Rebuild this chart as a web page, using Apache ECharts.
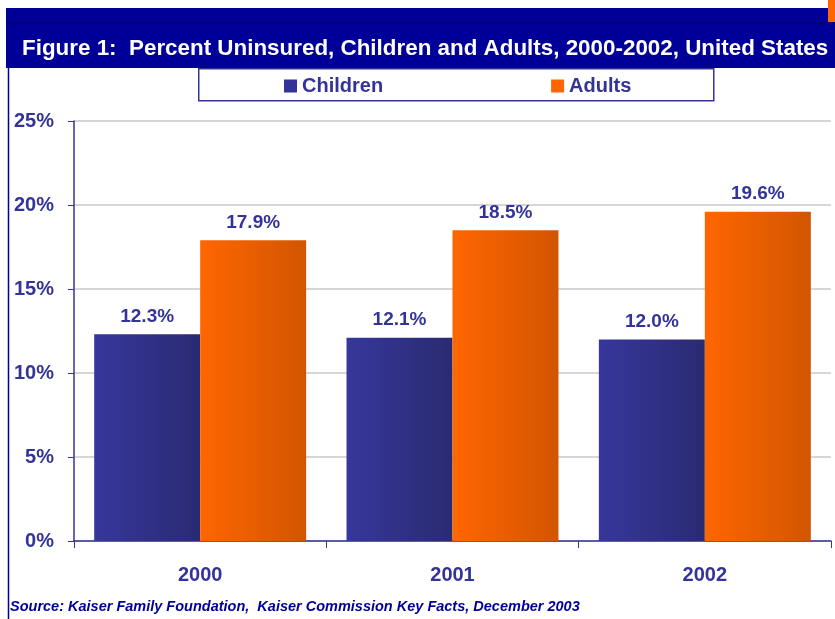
<!DOCTYPE html>
<html>
<head>
<meta charset="utf-8">
<script src="https://cdn.jsdelivr.net/npm/echarts@6/dist/echarts.min.js"></script>
<style>
  html, body { margin: 0; padding: 0; background: #fff; }
  #main { width: 835px; height: 619px; }
</style>
</head>
<body>
<div id="main"></div>
<script>
  // 数据
  var years = ['2000', '2001', '2002'];
  var children = [12.3, 12.1, 12.0];
  var adults = [17.9, 18.5, 19.6];
  var yTicks = [0, 5, 10, 15, 20, 25];

  var navy = '#333399';
  var font = '"Liberation Sans", Arial, sans-serif';

  var chart = echarts.init(document.getElementById('main'));

  function grad(a, b) {
    return new echarts.graphic.LinearGradient(0, 0, 1, 0, [
      { offset: 0, color: a },
      { offset: 1, color: b }
    ]);
  }

  var labelStyle = {
    show: true,
    position: 'top',
    distance: 8,
    color: navy,
    fontFamily: font,
    fontWeight: 'bold',
    fontSize: 19,
    formatter: function (p) { return p.value.toFixed(1) + '%'; }
  };

  chart.setOption({
    animation: false,
    textStyle: { fontFamily: font },
    graphic: [
      // 标题栏
      { type: 'rect', left: 6, top: 8, shape: { width: 829, height: 60 }, style: { fill: '#000099' } },
      { type: 'line', shape: { x1: 6, y1: 23, x2: 835, y2: 23 }, style: { stroke: '#00005a', lineWidth: 1 } },
      { type: 'rect', left: 828, top: 0, shape: { width: 7, height: 22 }, style: { fill: '#ff6600' } },
      { type: 'text', left: 22, top: 38, style: { text: 'Figure 1:  Percent Uninsured, Children and Adults, 2000-2002, United States', fill: '#fff', font: 'bold 22.4px ' + font } },
      // 左边框
      { type: 'line', shape: { x1: 8.5, y1: 68, x2: 8.5, y2: 619 }, style: { stroke: '#000099', lineWidth: 1.5 } },
      // 图例框
      { type: 'rect', left: 198, top: 68, shape: { width: 515, height: 32 }, style: { fill: '#fff', stroke: navy, lineWidth: 1.5 }, z: 0 },
      // 来源
      { type: 'text', left: 10, top: 599, style: { text: 'Source: Kaiser Family Foundation,  Kaiser Commission Key Facts, December 2003', fill: '#000099', font: 'italic bold 14.5px ' + font } }
    ],
    legend: {
      left: 279,
      top: 71,
      itemWidth: 13,
      itemHeight: 13,
      itemGap: 168,
      icon: 'rect',
      z: 10,
      textStyle: { color: navy, fontWeight: 'bold', fontSize: 20, fontFamily: font },
      data: [
        { name: 'Children', itemStyle: { color: '#333399' } },
        { name: 'Adults', itemStyle: { color: '#ff6600' } }
      ]
    },
    grid: { left: 74, right: 4, top: 121, bottom: 78 },
    xAxis: {
      type: 'category',
      data: years,
      axisLine: { lineStyle: { color: navy, width: 1.5 } },
      axisTick: { show: true, length: 7, lineStyle: { color: navy } },
      axisLabel: { color: navy, fontWeight: 'bold', fontSize: 20, margin: 24, fontFamily: font }
    },
    yAxis: {
      type: 'value',
      min: yTicks[0],
      max: yTicks[yTicks.length - 1],
      interval: 5,
      axisLine: { show: true, lineStyle: { color: navy, width: 1.5 } },
      axisTick: { show: true, length: 6, lineStyle: { color: navy } },
      splitLine: { lineStyle: { color: '#c8c8c8', width: 1.5 } },
      axisLabel: { color: navy, fontWeight: 'bold', fontSize: 20, margin: 20, fontFamily: font, padding: [6, 0, 0, 0], formatter: '{value}%' }
    },
    series: [
      {
        name: 'Children',
        type: 'bar',
        data: children,
        barGap: '0%',
        barCategoryGap: '16%',
        itemStyle: { color: grad('#37379c', '#2a2a72') },
        label: labelStyle
      },
      {
        name: 'Adults',
        type: 'bar',
        data: adults,
        itemStyle: { color: grad('#ff6600', '#d25500') },
        label: labelStyle
      }
    ]
  });
</script>
</body>
</html>
